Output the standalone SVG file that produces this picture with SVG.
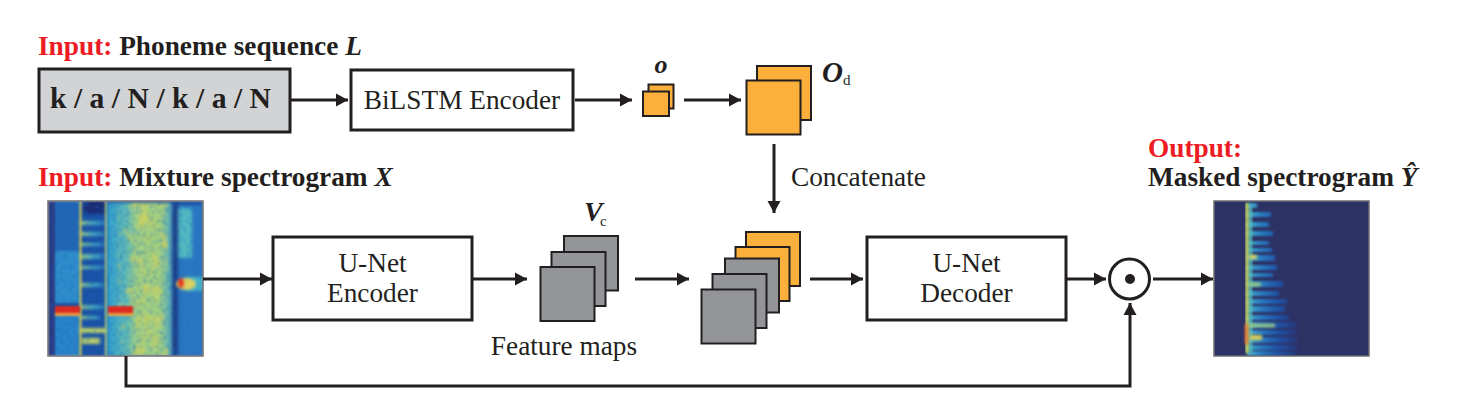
<svg xmlns="http://www.w3.org/2000/svg" width="1459" height="417" viewBox="0 0 1459 417">
<style>
text{font-family:"Liberation Serif","Times New Roman",serif;fill:#231f20}
.h{font-size:27.300px;font-weight:bold}
.r{fill:#ed1c24}
.i{font-style:italic;font-weight:bold}
.l{font-size:27.300px}
.box{fill:#fff;stroke:#231f20;stroke-width:3}
.o{fill:#fbb03b;stroke:#231f20;stroke-width:2}
.g{fill:#939598;stroke:#231f20;stroke-width:2}
.c{fill:none;stroke:#231f20;stroke-width:3}
.f{stroke:#6d6e71;stroke-width:1.500;fill:none}
</style>
<defs>
<marker id="a" markerUnits="userSpaceOnUse" markerWidth="14" markerHeight="14" refX="12" refY="7" orient="auto"><path d="M0 .5L12 7L0 13.500z" fill="#231f20"/></marker>
<clipPath id="c1"><rect x="48" y="201" width="155" height="155"/></clipPath>
<clipPath id="c2"><rect x="1214" y="201" width="155" height="155"/></clipPath>
<filter id="b0" x="-5%" y="-5%" width="110%" height="110%" color-interpolation-filters="sRGB"><feGaussianBlur stdDeviation=".8"/></filter>
<filter id="b1" x="-20%" y="-20%" width="140%" height="140%" color-interpolation-filters="sRGB"><feGaussianBlur stdDeviation="1.500"/></filter>
<filter id="b2" x="-20%" y="-30%" width="140%" height="160%" color-interpolation-filters="sRGB"><feGaussianBlur stdDeviation="1.800 1.200"/></filter>
<filter id="n" x="0" y="0" width="100%" height="100%" color-interpolation-filters="sRGB"><feTurbulence type="fractalNoise" baseFrequency="0.3 0.35" numOctaves="2" seed="4"/><feColorMatrix values="0 0 0 0 0.1  0 0 0 0 0.4  0 0 0 0 0.75  2 2 0 0 -1.900"/></filter>
<filter id="ny" x="0" y="0" width="100%" height="100%" color-interpolation-filters="sRGB"><feTurbulence type="fractalNoise" baseFrequency="0.1 0.07" numOctaves="2" seed="11"/><feColorMatrix values="0 0 0 0 0.85  0 0 0 0 0.83  0 0 0 0 0.35  2 2 0 0 -1.950"/></filter>
<linearGradient id="gy" x1="0" x2="1" y1="0" y2="0"><stop offset="0" stop-color="#2f9fd0"/><stop offset=".3" stop-color="#62bdb4"/><stop offset=".45" stop-color="#a4d080"/><stop offset=".8" stop-color="#a6d27e"/><stop offset="1" stop-color="#4aa8c8"/></linearGradient>
<linearGradient id="gb" gradientUnits="userSpaceOnUse" x1="1248" x2="1296" y1="0" y2="0"><stop offset="0" stop-color="#48b0c8"/><stop offset=".25" stop-color="#2a80c4"/><stop offset=".6" stop-color="#1f55a8"/><stop offset="1" stop-color="#28387c"/></linearGradient>
<linearGradient id="gh" gradientUnits="userSpaceOnUse" x1="80" x2="106" y1="0" y2="0"><stop offset="0" stop-color="#a8d078"/><stop offset=".5" stop-color="#4ab0c0"/><stop offset="1" stop-color="#2878c4"/></linearGradient>
</defs>

<g id="input-label-1"><text class="h" x="38" y="54.500"><tspan class="r">Input:</tspan> Phoneme sequence <tspan class="i">L</tspan></text></g>
<g id="input-label-2"><text class="h" x="38" y="185.500"><tspan class="r">Input:</tspan> Mixture spectrogram <tspan class="i">X</tspan></text></g>
<g id="output-label"><text class="h r" x="1148" y="156.500">Output:</text><text class="h" x="1148" y="185.500">Masked spectrogram <tspan class="i">Ŷ</tspan></text></g>

<g id="phoneme"><rect x="39" y="69" width="251" height="63" fill="#d1d3d4" stroke="#231f20" stroke-width="3"/><text x="50" y="108" style="font-size:29.700px;font-weight:bold">k / a / N / k / a / N</text></g>
<g id="bilstm"><rect class="box" x="351" y="70" width="222" height="60"/><text class="l" x="462" y="108.500" text-anchor="middle">BiLSTM Encoder</text></g>

<g id="o-features"><rect class="o" x="648.500" y="84.500" width="25" height="24"/><rect class="o" x="643" y="91.500" width="26" height="24.500"/><text x="661" y="73" style="font-size:26px;font-weight:bold;font-style:italic" text-anchor="middle">o</text></g>
<g id="od-features"><rect class="o" x="757" y="66" width="54" height="54"/><rect class="o" x="746.500" y="80.500" width="54" height="54"/><text x="822" y="82" style="font-size:29px;font-weight:bold;font-style:italic">O<tspan style="font-size:15px;font-weight:normal;font-style:normal" dy="3">d</tspan></text></g>

<g id="input-spectrogram">
<g clip-path="url(#c1)">
<g filter="url(#b0)">
<rect x="48" y="201" width="155" height="155" fill="#1c4fa0"/>
<rect x="48" y="201" width="7" height="155" fill="#2a3a80"/>
<rect x="55" y="201" width="25" height="50" fill="#2166b4"/>
<rect x="55" y="251" width="25" height="52" fill="#2f8ecb"/>
<rect x="55" y="313" width="25" height="43" fill="#2a84c8"/>
<g filter="url(#b2)">
<rect x="80" y="201" width="26" height="155" fill="#1a50a4"/>
<rect x="84" y="201" width="22" height="13" fill="#1a2a70"/>
<rect x="80" y="221" width="24" height="4" fill="url(#gh)"/><rect x="80" y="232" width="24" height="4" fill="url(#gh)"/><rect x="80" y="243" width="24" height="3" fill="url(#gh)"/>
<rect x="80" y="254" width="24" height="5" fill="url(#gh)"/><rect x="80" y="266" width="24" height="3" fill="url(#gh)"/><rect x="80" y="283" width="24" height="4" fill="url(#gh)"/><rect x="80" y="305" width="24" height="4" fill="url(#gh)"/><rect x="80" y="316" width="20" height="3" fill="url(#gh)"/>
<rect x="80" y="328" width="26" height="5" fill="#c8d860"/><rect x="82" y="338" width="18" height="6" fill="#c8d860"/>
<rect x="107" y="203" width="66" height="153" fill="url(#gy)"/>
<rect x="177" y="205" width="26" height="151" fill="#2a78c2"/>
<rect x="178" y="208" width="14" height="50" fill="#55bcc0"/>
<rect x="172" y="201" width="6" height="155" fill="#1a3a85"/>
<rect x="186" y="277" width="17" height="14" fill="#48b8c8"/>
</g>
<rect x="48" y="201" width="155" height="155" filter="url(#n)" opacity=".55"/>
<rect x="118" y="203" width="50" height="153" filter="url(#ny)" opacity=".8"/>
<rect x="79.500" y="201" width="2" height="155" fill="#d8cc50"/>
<rect x="105" y="201" width="1.500" height="155" fill="#c8d868"/>
</g>
<g filter="url(#b0)">
<rect x="55" y="306" width="25" height="7" fill="#dd2a20"/><rect x="108" y="306" width="25" height="7" fill="#dd2a20"/>
<rect x="55" y="313" width="25" height="3" fill="#e8a040"/><rect x="108" y="313" width="25" height="3" fill="#e8a040"/>
</g>
<g filter="url(#b1)">
<ellipse cx="186" cy="284" rx="10" ry="6" fill="#dcd060"/><ellipse cx="181" cy="283" rx="3" ry="5" fill="#e83a20"/>
</g>
</g>
<rect class="f" x="48" y="201" width="155" height="155"/>
</g>

<g id="unet-encoder"><rect class="box" x="273" y="237" width="199" height="83"/><text class="l" x="372.500" y="271.500" text-anchor="middle">U-Net</text><text class="l" x="372.500" y="301.500" text-anchor="middle">Encoder</text></g>

<g id="feature-maps"><rect class="g" x="564" y="236" width="54" height="54.500"/><rect class="g" x="551.500" y="252" width="54" height="54"/><rect class="g" x="540.500" y="267" width="54" height="54"/><text x="584" y="221" style="font-size:28px;font-weight:bold;font-style:italic">V</text><text x="600" y="226" style="font-size:15px">c</text><text class="l" x="564" y="354.500" text-anchor="middle">Feature maps</text></g>

<g id="concat-maps"><rect class="o" x="746" y="232" width="54" height="54"/><rect class="o" x="735.500" y="247" width="54" height="54"/><rect class="g" x="725" y="258.500" width="54" height="54"/><rect class="g" x="712.500" y="274" width="54" height="54"/><rect class="g" x="701.500" y="289.500" width="54" height="54"/></g>
<g id="concat-label"><text class="l" x="791" y="185.500">Concatenate</text></g>

<g id="unet-decoder"><rect class="box" x="867" y="237" width="199" height="83"/><text class="l" x="966.500" y="271.500" text-anchor="middle">U-Net</text><text class="l" x="966.500" y="301.500" text-anchor="middle">Decoder</text></g>

<g id="hadamard"><circle cx="1129.500" cy="279" r="20" fill="#fff" stroke="#231f20" stroke-width="3"/><circle cx="1130" cy="279" r="5" fill="#231f20"/></g>

<g id="output-spectrogram">
<rect x="1214" y="201" width="155" height="155" fill="#2d3264"/>
<g clip-path="url(#c2)">
<g filter="url(#b2)" fill="url(#gb)">
<rect x="1247" y="203" width="10" height="5"/><rect x="1247" y="212" width="24" height="5"/><rect x="1247" y="222" width="22" height="5"/><rect x="1247" y="231" width="26" height="5"/>
<rect x="1247" y="241" width="22" height="4"/><rect x="1247" y="248" width="25" height="4"/><rect x="1247" y="255" width="28" height="6"/>
<rect x="1247" y="265" width="30" height="5"/><rect x="1247" y="273" width="26" height="4"/><rect x="1247" y="281" width="36" height="6"/>
<rect x="1247" y="291" width="32" height="5"/><rect x="1247" y="299" width="40" height="5"/><rect x="1247" y="306" width="38" height="6"/>
<rect x="1247" y="315" width="42" height="5"/><rect x="1247" y="322" width="50" height="6"/><rect x="1247" y="330" width="50" height="5"/><rect x="1247" y="337" width="50" height="6"/><rect x="1247" y="345" width="50" height="5"/><rect x="1247" y="351" width="50" height="5"/>
</g>
<g filter="url(#b0)">
<rect x="1245.500" y="203" width="3" height="150" fill="#d0d458"/>
<rect x="1248.500" y="206" width="4" height="146" fill="#58b8b8" opacity=".8"/>
</g>
<g filter="url(#b1)">
<rect x="1249" y="255" width="8" height="4" fill="#d8d060"/><rect x="1249" y="283" width="12" height="3" fill="#a8d070"/><rect x="1249" y="324" width="26" height="3" fill="#a8d078"/><rect x="1250" y="335" width="12" height="5" fill="#d8d058"/>
<rect x="1245" y="324" width="3" height="20" fill="#e86a30"/>
</g>
</g>
<rect class="f" x="1214" y="201" width="155" height="155"/>
</g>

<g id="connectors">
<path class="c" marker-end="url(#a)" d="M291 100H348"/>
<path class="c" marker-end="url(#a)" d="M575 100H632"/>
<path class="c" marker-end="url(#a)" d="M684 100H741"/>
<path class="c" marker-end="url(#a)" d="M774 144V213"/>
<path class="c" marker-end="url(#a)" d="M203 279H272"/>
<path class="c" marker-end="url(#a)" d="M473 279H527"/>
<path class="c" marker-end="url(#a)" d="M635 279H689"/>
<path class="c" marker-end="url(#a)" d="M810 279H863"/>
<path class="c" marker-end="url(#a)" d="M1067 279H1106"/>
<path class="c" marker-end="url(#a)" d="M1153 279H1213"/>
<path class="c" marker-end="url(#a)" d="M126 356V386H1130V303"/>
</g>
</svg>
